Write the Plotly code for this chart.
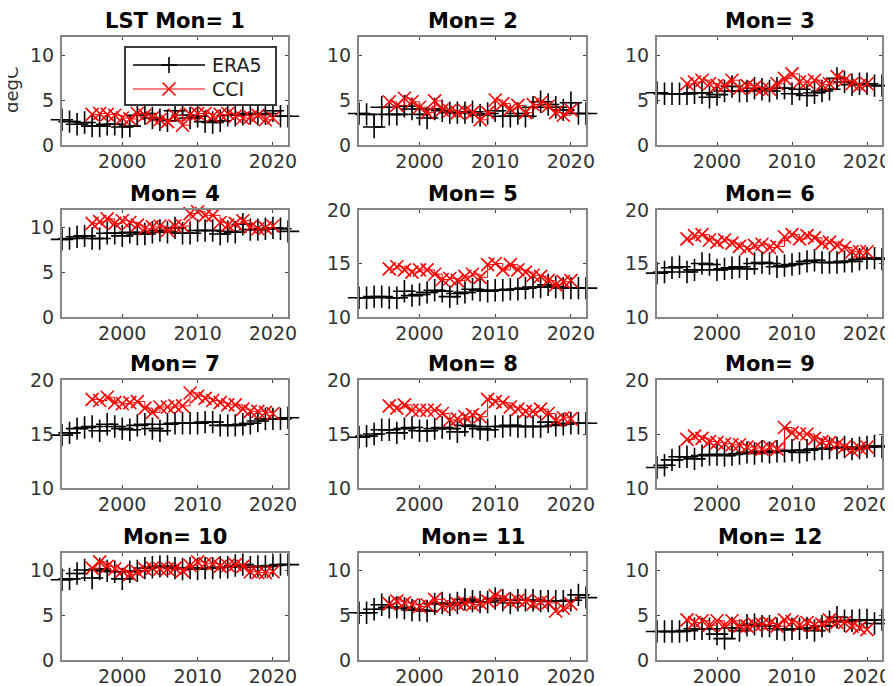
import plotly.graph_objects as go

era_years = list(range(1992, 2023))
cci_years = list(range(1996, 2021))

era5 = {
    1: [2.8, 2.6, 2.3, 2.5, 2.1, 2.1, 2.3, 2.3, 2.0, 2.1, 3.3, 3.5, 3.0, 2.8, 2.7, 3.8, 3.3, 3.0, 3.2, 2.6, 2.5, 2.7, 3.3, 3.3, 3.4, 3.5, 3.4, 3.5, 3.8, 3.2, 3.2],
    2: [3.5, 3.4, 2.0, 4.2, 3.4, 3.4, 4.3, 4.0, 3.4, 3.0, 4.0, 3.8, 3.6, 3.6, 3.6, 3.7, 3.3, 3.5, 3.8, 3.2, 3.2, 3.5, 3.2, 4.2, 4.8, 4.5, 4.2, 3.9, 4.7, 3.5, 3.5],
    3: [5.8, 5.7, 5.7, 5.7, 5.7, 5.8, 5.8, 5.3, 5.6, 6.0, 6.5, 6.0, 6.0, 6.3, 6.2, 6.0, 6.3, 6.3, 5.7, 6.2, 5.5, 5.8, 6.0, 6.2, 7.4, 7.0, 6.7, 6.8, 6.8, 6.6, 6.6],
    4: [8.7, 8.8, 9.0, 9.1, 8.8, 8.8, 9.4, 9.4, 9.1, 9.5, 9.3, 9.3, 9.5, 9.7, 9.5, 10.0, 9.4, 9.4, 9.7, 9.7, 9.7, 9.3, 9.6, 9.5, 10.4, 9.8, 9.8, 9.9, 10.0, 9.9, 9.6],
    5: [11.8, 11.8, 11.9, 11.9, 11.8, 11.8, 12.4, 12.0, 12.1, 12.3, 12.5, 12.4, 11.9, 12.2, 12.3, 12.6, 12.5, 12.4, 12.5, 12.5, 12.6, 12.6, 12.7, 12.8, 12.8, 13.0, 12.8, 12.7, 12.7, 12.7, 12.7],
    6: [14.1, 14.2, 14.6, 14.7, 14.2, 14.4, 15.0, 14.9, 14.4, 14.5, 14.6, 14.7, 14.5, 15.0, 15.1, 15.0, 14.7, 14.8, 14.9, 15.0, 15.2, 15.3, 15.1, 15.1, 15.1, 15.2, 15.2, 15.4, 15.5, 15.5, 15.4],
    7: [14.9, 15.1, 15.5, 15.6, 15.7, 15.3, 15.9, 15.7, 15.5, 15.4, 15.8, 15.9, 15.5, 15.3, 15.9, 16.0, 16.0, 16.0, 16.0, 16.1, 16.1, 15.8, 15.8, 15.8, 15.9, 16.0, 16.2, 16.4, 16.4, 16.4, 16.5],
    8: [14.7, 14.8, 15.0, 15.4, 15.4, 15.1, 15.5, 15.6, 15.3, 15.3, 15.5, 15.6, 15.5, 15.2, 15.8, 15.7, 15.5, 15.4, 15.7, 15.7, 15.8, 15.7, 15.7, 15.7, 15.7, 16.1, 15.8, 15.9, 16.0, 16.0, 16.0],
    9: [11.9, 12.1, 12.6, 12.9, 12.9, 12.7, 13.0, 13.1, 13.1, 13.0, 13.1, 13.2, 13.3, 13.2, 13.4, 13.3, 13.4, 13.4, 13.5, 13.3, 13.5, 13.6, 13.6, 13.7, 13.7, 13.8, 13.6, 13.7, 13.8, 13.9, 13.8],
    10: [9.0, 9.1, 9.7, 10.1, 9.2, 10.2, 10.0, 9.9, 9.1, 9.9, 10.0, 10.3, 10.4, 10.5, 10.5, 10.3, 10.2, 10.3, 10.2, 10.3, 10.3, 10.4, 10.4, 10.6, 10.7, 10.4, 10.5, 10.5, 10.6, 10.7, 10.7],
    11: [5.3, 5.3, 5.7, 6.2, 5.9, 5.9, 5.8, 5.6, 5.6, 5.5, 6.3, 6.4, 6.2, 6.4, 6.8, 6.6, 6.5, 6.5, 6.9, 6.7, 6.4, 6.7, 6.7, 6.7, 6.6, 6.6, 6.6, 6.6, 6.7, 7.3, 7.0],
    12: [3.2, 3.2, 3.2, 3.2, 3.3, 3.5, 3.5, 3.5, 2.9, 2.4, 3.6, 3.3, 3.9, 4.0, 3.8, 3.8, 3.5, 3.4, 3.5, 3.5, 3.6, 3.3, 3.8, 4.3, 4.8, 4.4, 4.4, 4.5, 4.5, 4.1, 4.5],
}

cci = {
    1: [3.4, 3.5, 3.4, 3.3, 3.0, 2.9, 3.5, 3.3, 3.0, 2.8, 2.6, 3.3, 2.2, 3.4, 3.5, 3.5, 3.2, 3.4, 3.5, 3.2, 3.0, 3.1, 3.3, 2.8, 3.0],
    2: [4.8, 4.4, 5.2, 4.8, 4.2, 3.6, 4.9, 3.9, 3.8, 3.6, 3.8, 3.6, 2.8, 3.6, 5.0, 4.6, 4.0, 4.4, 3.6, 4.5, 4.7, 4.3, 3.6, 3.3, 3.9],
    3: [6.8, 7.0, 7.2, 6.8, 6.6, 6.6, 7.2, 6.3, 6.6, 6.4, 6.2, 6.2, 6.8, 7.4, 7.9, 7.0, 7.0, 7.2, 6.7, 6.8, 7.6, 7.2, 6.8, 6.6, 6.8],
    4: [10.5, 10.7, 11.0, 10.5, 10.8, 10.6, 10.3, 9.9, 10.1, 10.2, 9.7, 10.2, 10.2, 11.6, 11.8, 11.4, 11.4, 10.6, 10.3, 10.5, 10.8, 10.1, 9.9, 10.0, 10.2],
    5: [14.5, 14.7, 14.4, 14.2, 14.4, 14.4, 14.0, 13.5, 13.6, 13.4, 13.8, 14.0, 13.7, 14.9, 15.0, 14.4, 14.9, 14.4, 14.2, 13.9, 13.8, 13.4, 13.0, 13.3, 13.4],
    6: [17.3, 17.6, 17.7, 17.2, 17.0, 17.2, 16.9, 16.6, 16.4, 16.7, 16.8, 16.5, 16.6, 17.5, 17.7, 17.3, 17.6, 17.4, 16.9, 17.0, 16.7, 16.5, 16.1, 16.1, 16.1],
    7: [18.2, 18.1, 18.4, 17.9, 17.8, 17.9, 18.0, 17.4, 17.0, 17.5, 17.5, 17.6, 17.6, 18.8, 18.5, 18.3, 18.1, 17.9, 17.7, 17.7, 17.3, 17.1, 17.1, 17.0, 16.9],
    8: [17.6, 17.4, 17.7, 17.2, 17.2, 17.2, 17.2, 16.9, 16.3, 16.4, 16.6, 16.8, 16.6, 18.2, 18.0, 17.9, 17.5, 17.3, 17.1, 17.1, 17.3, 16.9, 16.3, 16.5, 16.4],
    9: [14.5, 14.8, 14.6, 14.3, 14.2, 14.1, 14.0, 14.0, 13.8, 13.7, 13.6, 13.8, 13.6, 15.6, 15.1, 15.0, 15.0, 14.6, 14.3, 14.2, 14.0, 13.8, 13.5, 13.7, 13.8],
    10: [10.3, 11.0, 10.5, 10.2, 10.0, 9.6, 9.9, 10.2, 10.3, 10.2, 10.2, 10.3, 10.0, 10.6, 11.0, 10.8, 10.8, 10.5, 10.6, 10.7, 10.5, 9.9, 9.8, 9.8, 9.9],
    11: [6.3, 6.6, 6.4, 6.2, 6.0, 6.2, 6.8, 6.0, 6.2, 6.3, 6.4, 6.2, 6.4, 6.6, 7.2, 6.8, 6.5, 6.7, 6.6, 6.3, 6.5, 6.4, 5.5, 5.8, 6.3],
    12: [4.5, 4.2, 4.4, 3.9, 4.4, 3.9, 4.4, 3.8, 3.8, 4.0, 4.0, 4.1, 3.8, 4.5, 4.3, 3.9, 4.2, 3.9, 4.0, 4.5, 4.2, 4.2, 3.8, 3.6, 3.4],
}

titles = ["LST Mon= 1"] + ["Mon= %d" % m for m in range(2, 13)]
y_ranges = {1: [0, 12], 2: [0, 12], 3: [0, 12], 4: [0, 12],
            5: [10, 20], 6: [10, 20], 7: [10, 20], 8: [10, 20], 9: [10, 20],
            10: [0, 12], 11: [0, 12], 12: [0, 12]}
y_ticks = {"low": [0, 5, 10], "high": [10, 15, 20]}
x_range = [1992, 2022]
x_ticks = [2000, 2010, 2020]
legend_names = ["ERA5", "CCI"]
y_label = "degC"

# page body has an 8px margin: work in target-page pixels and shift
OFF = 8
W, H = 893 - OFF, 686 - OFF


def px(v):
    return (v - OFF) / W


def py(v):
    return 1 - (v - OFF) / H


col_left = [62, 359, 657]
col_right = [288, 586, 882]
row_top = [37, 210, 380, 553]
row_bot = [145, 317, 488, 660]

FONT = "DejaVu Sans"
fig = go.Figure()
annotations = []
shapes = []

for m in range(1, 13):
    r = (m - 1) // 3
    c = (m - 1) % 3
    sfx = "" if m == 1 else str(m)
    xa = "x" + sfx
    ya = "y" + sfx
    fig.add_trace(go.Scatter(
        x=era_years, y=era5[m], mode="lines+markers", name=legend_names[0],
        line=dict(color="black", width=1.5, shape="hv"),
        marker=dict(symbol="cross-thin", size=16, line=dict(color="black", width=1.6)),
        xaxis=xa, yaxis=ya, showlegend=False, cliponaxis=False))
    fig.add_trace(go.Scatter(
        x=cci_years, y=cci[m], mode="lines+markers", name=legend_names[1],
        line=dict(color="red", width=1, shape="hv"),
        marker=dict(symbol="x-thin", size=13, line=dict(color="red", width=1.6)),
        xaxis=xa, yaxis=ya, showlegend=False, cliponaxis=False))
    yr = y_ranges[m]
    ticks = y_ticks["high"] if yr[0] == 10 else y_ticks["low"]
    axis_common = dict(showline=True, linecolor="#858585", linewidth=2, mirror="ticks",
                       ticks="inside", ticklen=3, tickcolor="#444", tickwidth=1,
                       showgrid=False, zeroline=False,
                       tickfont=dict(family=FONT, size=19, color="#333"))
    fig.layout["xaxis" + sfx] = dict(
        domain=[px(col_left[c]), px(col_right[c])], range=x_range,
        tickvals=x_ticks, anchor=ya, ticklabelstandoff=-2, **axis_common)
    fig.layout["yaxis" + sfx] = dict(
        domain=[py(row_bot[r]), py(row_top[r])], range=yr,
        tickvals=ticks, anchor=xa, ticklabelstandoff=2, **axis_common)
    annotations.append(dict(
        text="<b>%s</b>" % titles[m - 1], xref="paper", yref="paper",
        x=px((col_left[c] + col_right[c]) / 2), y=py(row_top[r] - 16),
        xanchor="center", yanchor="middle", showarrow=False,
        font=dict(family=FONT, size=21, color="black")))

# partially visible y-axis label at the page's left edge
annotations.append(dict(
    text=y_label, xref="paper", yref="paper", x=px(11), y=py(90),
    xanchor="center", yanchor="middle", textangle=-90, showarrow=False,
    font=dict(family=FONT, size=18, color="#333")))

# legend box (drawn like MATLAB's legend, inside panel 1)
lx0, lx1, ly0, ly1 = 125, 276, 47, 105
shapes.append(dict(type="rect", xref="paper", yref="paper", layer="above",
                   x0=px(lx0), x1=px(lx1), y0=py(ly1), y1=py(ly0),
                   line=dict(color="#3a3a3a", width=2), fillcolor="white"))
rows_y = [65, 89]
colors = ["black", "red"]
for i, yy in enumerate(rows_y):
    shapes.append(dict(type="line", xref="paper", yref="paper", layer="above",
                       x0=px(133), x1=px(205), y0=py(yy), y1=py(yy),
                       line=dict(color=colors[i], width=1.5 if i == 0 else 1)))
    cx = 169
    if i == 0:
        path = "M%f,%f L%f,%f M%f,%f L%f,%f" % (px(cx - 8), py(yy), px(cx + 8), py(yy),
                                               px(cx), py(yy - 8), px(cx), py(yy + 8))
    else:
        d = 6.5
        path = "M%f,%f L%f,%f M%f,%f L%f,%f" % (px(cx - d), py(yy - d), px(cx + d), py(yy + d),
                                               px(cx - d), py(yy + d), px(cx + d), py(yy - d))
    shapes.append(dict(type="path", xref="paper", yref="paper", layer="above", path=path,
                       line=dict(color=colors[i], width=1.6)))
    annotations.append(dict(text=legend_names[i], xref="paper", yref="paper",
                            x=px(210), y=py(yy), xanchor="left", yanchor="middle",
                            showarrow=False,
                            font=dict(family=FONT, size=19, color="#222")))

fig.update_layout(
    width=W, height=H, margin=dict(l=0, r=0, t=0, b=0, autoexpand=False),
    paper_bgcolor="white", plot_bgcolor="white",
    annotations=annotations, shapes=shapes, showlegend=False,
)

fig.write_html("out.html")
